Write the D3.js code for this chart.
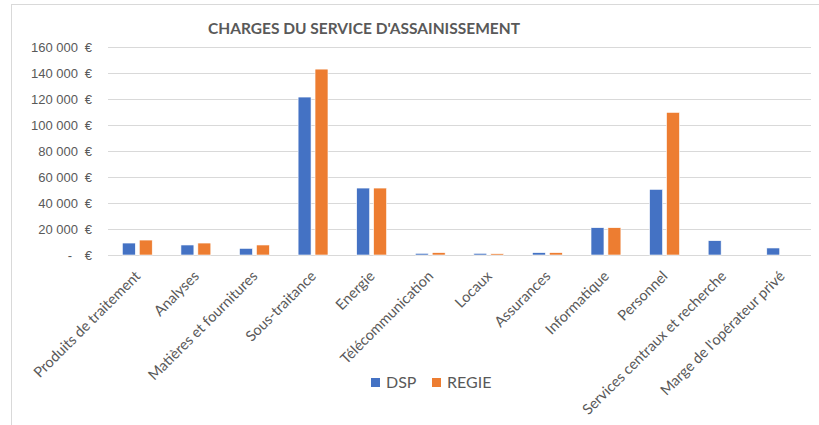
<!DOCTYPE html>
<html>
<head>
<meta charset="utf-8">
<script src="https://cdn.jsdelivr.net/npm/d3@7"></script>
<style>
  body { margin: 0; background: #fff; }
  svg { font-family: Lato, "Open Sans", sans-serif; }
  .grid line { stroke: #d9d9d9; }
  .grid .domain { display: none; }
</style>
</head>
<body>
<div class="container"></div>
<script>
const w = 819;
const h = 425;
const margin = { top: 47, bottom: 170, left: 108, right: 8 };
const width = w - margin.left - margin.right;
const height = h - margin.top - margin.bottom;

const categories = ['Produits de traitement', 'Analyses', 'Matières et fournitures', 'Sous-traitance',
  'Energie', 'Télécommunication', 'Locaux', 'Assurances', 'Informatique', 'Personnel',
  'Services centraux et recherche', "Marge de l'opérateur privé"];
const series = ['DSP', 'REGIE'];
const dsp = [9200, 7700, 5100, 121500, 51500, 1300, 1300, 1800, 21000, 50500, 11000, 5400];
const regie = [11500, 9200, 7700, 143000, 51500, 1800, 1000, 1800, 21000, 109700, 0, 0];
const yTicks = [0, 20000, 40000, 60000, 80000, 100000, 120000, 140000, 160000];
const colors = ['#4472C4', '#ED7D31'];

const rows = categories.map((c, i) => ({ cat: c, values: [dsp[i], regie[i]] }));

const svg = d3.select('.container').append('svg')
  .attr('width', w)
  .attr('height', h);

// chart frame
svg.append('rect')
  .attr('x', 11.5).attr('y', 4.5)
  .attr('width', w - 8).attr('height', h - 2)
  .attr('fill', 'none')
  .attr('stroke', '#d9d9d9');

svg.append('text')
  .attr('x', 364)
  .attr('y', 34)
  .attr('text-anchor', 'middle')
  .attr('font-size', 15.5)
  .attr('font-weight', 'bold')
  .attr('fill', '#595959')
  .text("CHARGES DU SERVICE D'ASSAINISSEMENT");

const chart = svg.append('g')
  .attr('transform', `translate(${margin.left}, ${margin.top})`);

const x0 = d3.scaleBand()
  .domain(categories)
  .range([0, width])
  .paddingInner(0.49)
  .paddingOuter(0.245);

const x1 = d3.scaleBand()
  .domain(series)
  .range([0, x0.bandwidth()])
  .paddingInner(0.235);

const y = d3.scaleLinear()
  .domain([0, 160000])
  .range([height, 0]);

const fmt = d3.formatLocale({ decimal: ',', thousands: '\u00a0', grouping: [3], currency: ['', ' €'] }).format(',d');

const yAxis = d3.axisLeft(y)
  .tickValues(yTicks)
  .tickSize(-width)
  .tickPadding(30)
  .tickFormat(d => d === 0 ? '-' : fmt(d));

const gy = chart.append('g')
  .attr('class', 'grid')
  .call(yAxis);

gy.selectAll('.tick text')
  .attr('fill', '#595959')
  .attr('font-size', 13)
  .attr('x', d => d === 0 ? -36 : -30);

gy.selectAll('.tick')
  .append('text')
  .attr('x', -16)
  .attr('dy', '0.32em')
  .attr('text-anchor', 'end')
  .attr('fill', '#595959')
  .attr('font-size', 13)
  .text('€');

const groups = chart.append('g')
  .selectAll('g')
  .data(rows)
  .enter().append('g')
  .attr('transform', d => `translate(${x0(d.cat)},0)`);

groups.selectAll('rect')
  .data(d => d.values.map((v, i) => ({ key: series[i], value: v, i })))
  .enter().append('rect')
  .filter(d => d.value > 0)
  .attr('x', d => x1(d.key))
  .attr('y', d => y(d.value))
  .attr('width', x1.bandwidth())
  .attr('height', d => height - y(d.value))
  .attr('fill', d => colors[d.i])
  .attr('stroke', '#fff')
  .attr('stroke-width', 0.6);

// category labels, rotated
chart.append('g')
  .selectAll('text')
  .data(categories)
  .enter().append('text')
  .attr('transform', d => `translate(${x0(d) + x0.bandwidth() / 2 + 4},${height + 22}) rotate(-45)`)
  .attr('text-anchor', 'end')
  .attr('font-size', 14.6)
  .attr('fill', '#595959')
  .text(d => d);

// legend
const legend = svg.append('g')
  .attr('transform', 'translate(371,378)');

const li = legend.selectAll('g')
  .data(series)
  .enter().append('g')
  .attr('transform', (d, i) => `translate(${i * 61},0)`);

li.append('rect')
  .attr('width', 9).attr('height', 9)
  .attr('fill', (d, i) => colors[i]);

li.append('text')
  .attr('x', 15)
  .attr('y', 9.5)
  .attr('font-size', 16)
  .attr('fill', '#595959')
  .text(d => d);
</script>
</body>
</html>
